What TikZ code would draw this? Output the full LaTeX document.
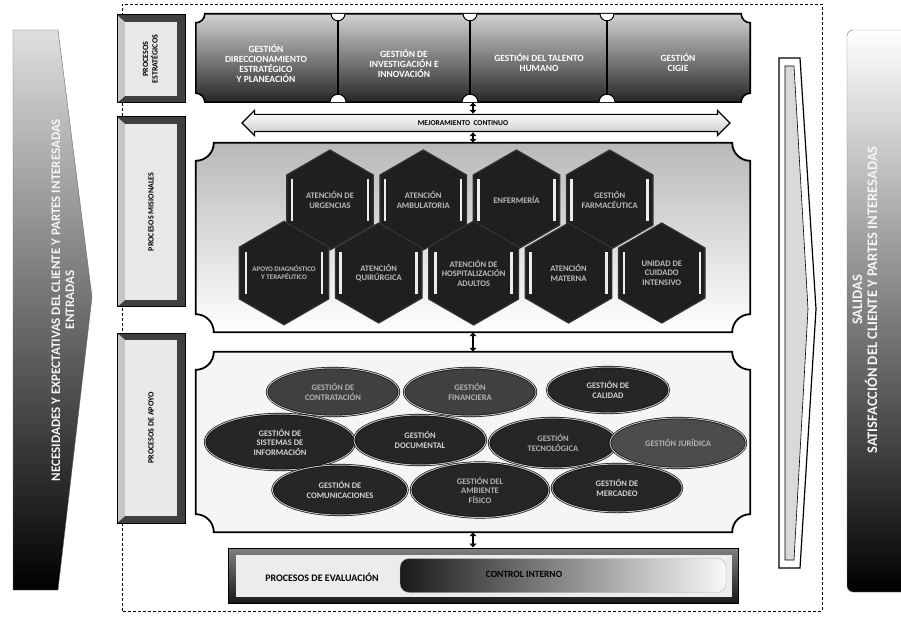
\documentclass[tikz,border=0pt]{standalone}
\usepackage{fontspec}
\setmainfont{Carlito}
\usetikzlibrary{shapes.geometric,shapes.arrows,arrows.meta,positioning}

% marco con esquinas concavas: nodo, radio, opciones
\newcommand{\marcocorte}[3]{%
  \path[#3] ([xshift=#2]#1.north west) -- ([xshift=-#2]#1.north east)
    arc[start angle=180, end angle=270, radius=#2] -- ([yshift=#2]#1.south east)
    arc[start angle=90, end angle=180, radius=#2] -- ([xshift=#2]#1.south west)
    arc[start angle=0, end angle=90, radius=#2] -- ([yshift=-#2]#1.north west)
    arc[start angle=270, end angle=360, radius=#2] -- cycle;}

\begin{document}
\begin{tikzpicture}[x=1pt, y=1pt, every node/.style={font=\bfseries, inner sep=1pt},
  etiqueta/.style={draw=black, line width=1pt, fill=black!75, minimum width=68pt, inner sep=0pt,
    font=\bfseries\fontsize{8}{9}\selectfont,
    path picture={
      \fill[gray!45] (path picture bounding box.south west) -- (path picture bounding box.north west) -- ++(8pt,-7pt) -- ([shift={(8pt,7pt)}]path picture bounding box.south west) -- cycle;
      \fill[gray!18] ([shift={(8pt,7pt)}]path picture bounding box.south west) rectangle ([shift={(-8pt,-7pt)}]path picture bounding box.north east);}},
  hexa/.style={regular polygon, regular polygon sides=6, shape border rotate=30, minimum size=100pt, inner sep=0pt,
    draw=gray!40!black, line width=1.2pt, fill=black!88, text=gray!55, align=center, font=\bfseries\fontsize{8.5}{9.5}\selectfont,
    path picture={\draw[gray!15, line width=2.5pt] ([xshift=-38pt]path picture bounding box.center) ++(0,-21pt) -- ++(0,42pt)
      ([xshift=38pt]path picture bounding box.center) ++(0,-21pt) -- ++(0,42pt);}},
  elipse/.style={ellipse, draw=black, line width=0.6pt, double=gray!50, double distance=1pt, fill=black!85,
    text=gray!60, align=center, inner sep=0pt, font=\bfseries\fontsize{8.5}{9.5}\selectfont},
  banda/.style={text=white, align=center, font=\bfseries\fontsize{9.5}{10}\selectfont},
  conector/.style={{Latex[length=4pt,width=8pt]}-{Latex[length=4pt,width=8pt]}, line width=2.6pt},
  marco/.style={minimum width=554pt, inner sep=0pt}]

\useasboundingbox (0,0) rectangle (901,619);
\draw[line width=0.9pt, dash pattern=on 3pt off 2pt] (122,8) rectangle (822,615);

% entradas y salidas
\shade[top color=gray!25, middle color=gray!65, bottom color=black, draw=black!60] (13,589) -- (58,589) -- (92,322) -- (58,29) -- (13,29) -- cycle;
\node[rotate=90, text=gray!8, align=center, font=\bfseries\fontsize{13}{14}\selectfont] (entradas) at (63,319)
  {NECESIDADES Y EXPECTATIVAS DEL CLIENTE Y PARTES INTERESADAS\\ENTRADAS};
\shade[top color=white, middle color=gray!60, bottom color=black, draw=black!50, rounded corners=6pt] (847,27) rectangle (912,589);
\node[rotate=90, text=gray!8, align=center, font=\bfseries\fontsize{14.5}{15}\selectfont] (salidas) at (865,319)
  {SALIDAS\\SATISFACCIÓN DEL CLIENTE Y PARTES INTERESADAS};
\draw[fill=white, line width=1.2pt] (779,561) -- (800,561) -- (816,310) -- (800,51) -- (779,51) -- cycle;
\draw[fill=gray!30, line width=0.6pt] (785,553) -- (794,553) -- (808,310) -- (794,59) -- (785,59) -- cycle;

% etiquetas de procesos
\node[etiqueta, minimum height=88pt] (estrat) at (151,560) {\rotatebox{90}{\begin{tabular}{@{}c@{}}PROCESOS\\ESTRATÉGICOS\end{tabular}}};
\node[etiqueta, minimum height=190pt] (misional) at (151,407) {\rotatebox{90}{PROCESOS MISIONALES}};
\node[etiqueta, minimum height=190pt] (deapoyo) at (151,191) {\rotatebox{90}{PROCESOS DE APOYO}};

% procesos estrategicos
\node[marco, minimum height=88pt] (estr) at (473,561) {};
\marcocorte{estr}{9pt}{draw, line width=1.6pt, top color=gray!35, bottom color=black!85}
\foreach \dx in {-135,-3,134} {
  \draw[line width=1.2pt] ([xshift=\dx pt]estr.north) -- ([xshift=\dx pt]estr.south);
  \draw[fill=white, line width=1pt] ([xshift=\dx pt-7pt]estr.north) arc[start angle=180, end angle=360, radius=7pt];
  \draw[fill=white, line width=1pt] ([xshift=\dx pt+8pt]estr.south) arc[start angle=0, end angle=180, radius=8pt];
}
\node[banda] (direc) at (266,555) {GESTIÓN\\DIRECCIONAMIENTO\\ESTRATÉGICO\\Y PLANEACIÓN};
\node[banda] (investig) at (404,555) {GESTIÓN DE\\INVESTIGACIÓN E\\INNOVACIÓN};
\node[banda] (talento) at (539,556) {GESTIÓN DEL TALENTO\\HUMANO};
\node[banda] (cigie) at (678,556) {GESTIÓN\\CIGIE};

% mejoramiento continuo
\node[double arrow, double arrow head extend=4pt, minimum height=488pt, text height=8pt, text depth=8pt, inner sep=0pt,
  draw=black, line width=1.2pt, top color=white, bottom color=gray!40] (mejora) at (486,496) {};
\node[font=\bfseries\fontsize{7.5}{8}\selectfont] (mejoratxt) at (463,496) {MEJORAMIENTO \ CONTINUO};

% procesos misionales
\node[marco, minimum height=189pt] (mision) at (473,381.5) {};
\marcocorte{mision}{18pt}{draw, line width=1.8pt, top color=gray!55, middle color=gray!12, bottom color=white}
\node[hexa] (urgencias) at (330,419) {ATENCIÓN DE\\URGENCIAS};
\node[hexa, right=5.4pt of urgencias] (ambulat) {ATENCIÓN\\AMBULATORIA};
\node[hexa, right=5.4pt of ambulat] (enferm) {ENFERMERÍA};
\node[hexa, right=5.4pt of enferm] (farmac) {GESTIÓN\\FARMACÉUTICA};
\node[hexa, font=\bfseries\fontsize{7}{8}\selectfont] (apoyodx) at (284,346) {APOYO DIAGNÓSTICO\\Y TERAPÉUTICO};
\node[hexa, right=5.4pt of apoyodx] (quirurg) {ATENCIÓN\\QUIRÚRGICA};
\node[hexa, right=5.4pt of quirurg] (hospital) {ATENCIÓN DE\\HOSPITALIZACIÓN\\ADULTOS};
\node[hexa, right=5.4pt of hospital] (materna) {ATENCIÓN\\MATERNA};
\node[hexa, right=5.4pt of materna] (uci) {UNIDAD DE\\CUIDADO\\INTENSIVO};

% procesos de apoyo
\node[marco, minimum height=180pt] (apoyo) at (473,177) {};
\marcocorte{apoyo}{18pt}{draw, line width=1.8pt, fill=gray!8}
\node[elipse, minimum width=132pt, minimum height=48pt, fill=black!75] (contrat) at (333,227) {GESTIÓN DE\\CONTRATACIÓN};
\node[elipse, minimum width=132pt, minimum height=48pt, fill=black!75] (financ) at (470,227) {GESTIÓN\\FINANCIERA};
\node[elipse, minimum width=122pt, minimum height=46pt, text=gray!35] (calidad) at (608,229) {GESTIÓN DE\\CALIDAD};
\node[elipse, minimum width=150pt, minimum height=56pt, text=gray!35] (sistemas) at (280,177) {GESTIÓN DE\\SISTEMAS DE\\INFORMACIÓN};
\node[elipse, minimum width=132pt, minimum height=50pt, text=gray!35] (document) at (420,179) {GESTIÓN\\DOCUMENTAL};
\node[elipse, minimum width=128pt, minimum height=50pt] (tecnolog) at (553,176) {GESTIÓN\\TECNOLÓGICA};
\node[elipse, minimum width=136pt, minimum height=50pt, fill=black!70] (juridica) at (678,176) {GESTIÓN JURÍDICA};
\node[elipse, minimum width=135pt, minimum height=50pt, text=gray!35] (comunic) at (340,129) {GESTIÓN DE\\COMUNICACIONES};
\node[elipse, minimum width=138pt, minimum height=55pt] (ambiente) at (480,129) {GESTIÓN DEL\\AMBIENTE\\FÍSICO};
\node[elipse, minimum width=130pt, minimum height=48pt, text=gray!35] (mercadeo) at (617,131) {GESTIÓN DE\\MERCADEO};

% procesos de evaluacion
\node[draw=black, line width=1pt, top color=black!50, bottom color=black!90, minimum width=510pt, minimum height=55pt, inner sep=0pt] (evalua) at (483,43.5) {};
\fill[gray!15] ([shift={(8pt,7pt)}]evalua.south west) rectangle ([shift={(-7pt,-7pt)}]evalua.north east);
\node[rounded corners=9pt, draw=gray!60, left color=black!90, right color=gray!5, minimum width=326pt, minimum height=34pt, inner sep=0pt] (control) at (563,43.5) {};
\node[font=\bfseries\fontsize{10}{11}\selectfont] (evaltxt) at (322,42) {PROCESOS DE EVALUACIÓN};
\node[font=\bfseries\fontsize{9.5}{10}\selectfont] (controltxt) at (524,45) {CONTROL INTERNO};

% conectores
\draw[conector] (estr.south) -- (estr.south |- mejora.north);
\draw[conector] (mision.north |- mejora.south) -- (mision.north);
\draw[conector] (mision.south) -- (apoyo.north);
\draw[conector] (apoyo.south) -- (apoyo.south |- evalua.north);
\end{tikzpicture}
\end{document}
